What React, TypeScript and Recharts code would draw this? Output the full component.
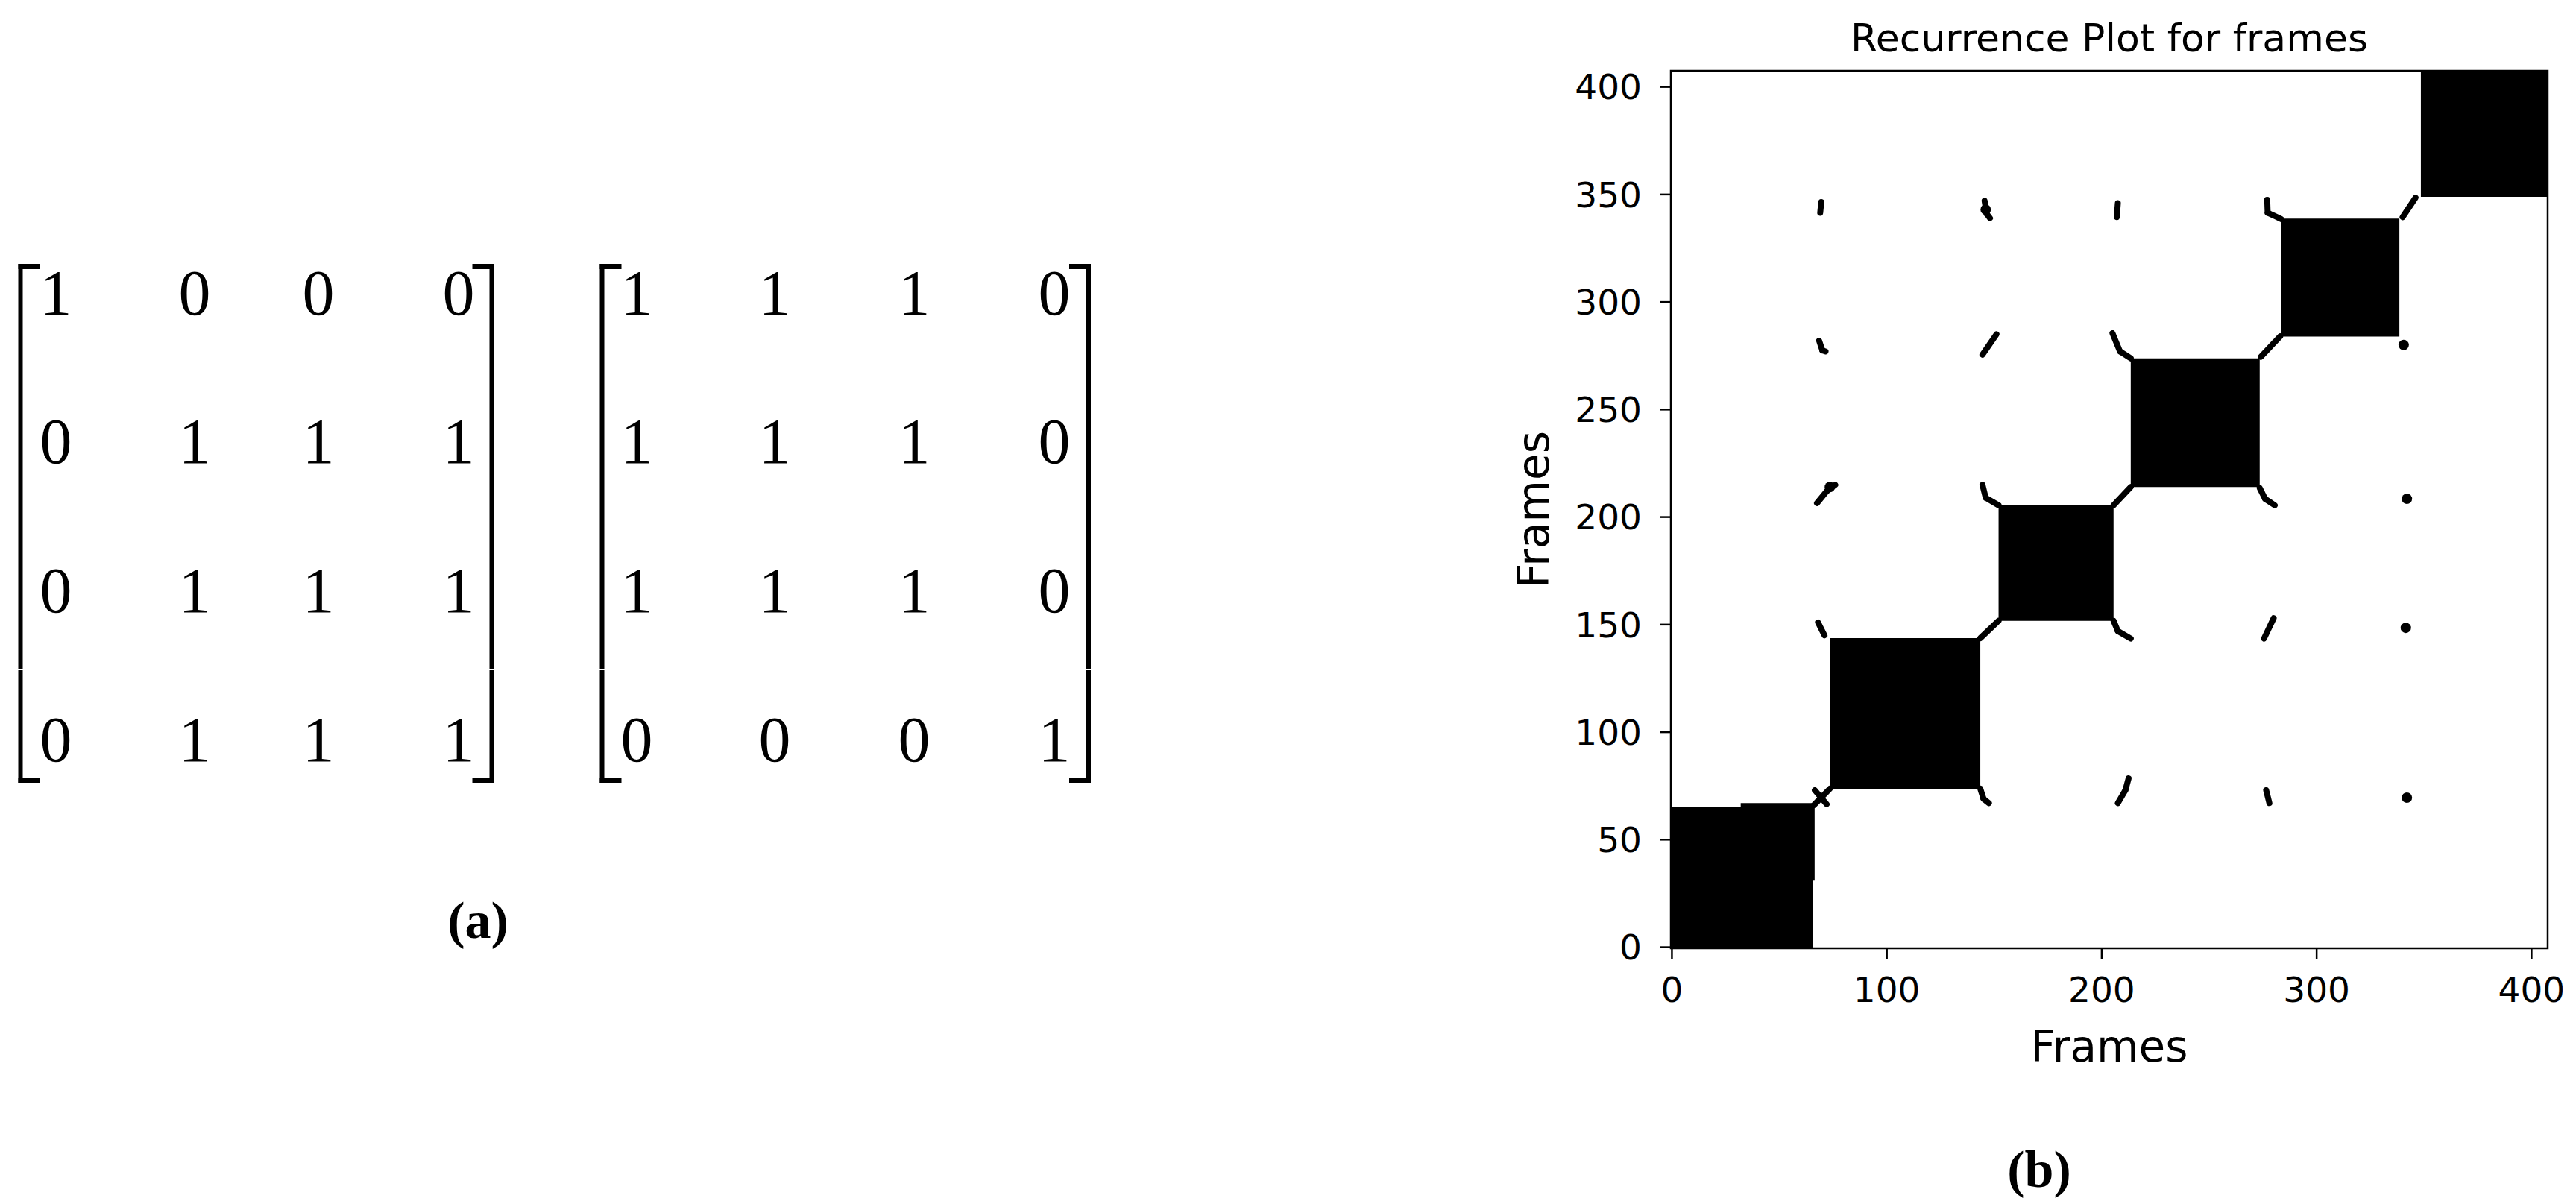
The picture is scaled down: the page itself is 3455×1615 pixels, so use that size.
import React from 'react';
import { ScatterChart, Scatter, XAxis, YAxis, ReferenceArea, ReferenceLine } from 'recharts';

// axis range of the recurrence image (imshow extent)
const frameMin = -0.5;
const frameMax = 407.5;
const xTicks = [0, 100, 200, 300, 400];
const yTicks = [0, 50, 100, 150, 200, 250, 300, 350, 400];

// black recurrence blocks along the diagonal (frame ranges)
const blockX1 = [-0.5, 32, 73.5, 152, 213.5, 283.5, 348.5];
const blockX2 = [65.6, 66.4, 143.5, 205.5, 273.5, 338.5, 407.5];
const blockY1 = [-0.5, 31, 73.7, 151.8, 214, 283.9, 348.9];
const blockY2 = [65.3, 67, 143.7, 205.5, 273.8, 338.8, 407.5];

// small off-diagonal recurrence specks, as short frame-to-frame strokes
const speckPaths: [number, number][][] = [
  [[69, 341.5], [69.5, 346.5]],
  [[145.5, 347], [146.5, 341], [148, 339]],
  [[207.5, 346], [207, 339.5]],
  [[277, 347.5], [277.2, 341.5], [283.5, 338.6]],
  [[340, 339.5], [346, 348.5]],
  [[68.5, 282], [70, 277.5], [71.5, 277]],
  [[144.5, 275.5], [151, 285]],
  [[205, 285.5], [208.5, 277], [213.5, 273.8]],
  [[274, 274.5], [283, 284]],
  [[67.5, 206.5], [72, 212], [76, 215]],
  [[144.5, 215], [146, 209], [152, 205.5]],
  [[205.5, 205.5], [213.5, 214]],
  [[273.5, 213.5], [276, 208.5], [280.5, 205.5]],
  [[68, 151], [71, 145]],
  [[143.5, 143.7], [152, 151.8]],
  [[205.5, 151.8], [207.5, 147], [213.5, 143.5]],
  [[275.5, 143.5], [280, 153]],
  [[66, 66], [73.5, 73.7]],
  [[66.5, 73], [72, 66.5]],
  [[143.5, 73.7], [145, 69], [147.5, 67]],
  [[207.5, 67], [211, 73], [212.5, 78.5]],
  [[276.5, 73], [278, 67]],
];
const speckDotsX = [342, 342, 340.5, 341.5, 146, 73.5];
const speckDotsY = [208.5, 69.5, 280, 148.5, 343, 214];

// matrices of panel (a)
const matrixA = [
  [1, 0, 0, 0],
  [0, 1, 1, 1],
  [0, 1, 1, 1],
  [0, 1, 1, 1],
];
const matrixB = [
  [1, 1, 1, 0],
  [1, 1, 1, 0],
  [1, 1, 1, 0],
  [0, 0, 0, 1],
];

const speckDots = speckDotsX.map((x, i) => ({ x, y: speckDotsY[i] }));

const rowBase = [422, 621, 821, 1021];
const colsA = [75, 261, 427, 615];
const colsB = [854, 1039, 1226, 1414];

const Bracket = ({ x, side }: { x: number; side: 'left' | 'right' }) => {
  const top = 354;
  const bottom = 1050;
  const w = 6;
  const serif = 29;
  const sx = side === 'left' ? x : x + w - serif;
  return (
    <g fill="#000">
      <rect x={x} y={top} width={w} height={bottom - top} />
      <rect x={sx} y={top} width={serif} height={7} />
      <rect x={sx} y={bottom - 7} width={serif} height={7} />
      <rect x={x - 1} y={897} width={w + 2} height={2} fill="#fff" />
    </g>
  );
};

const Matrix = ({ rows, cols }: { rows: number[][]; cols: number[] }) => (
  <g>
    {rows.map((row, r) =>
      row.map((v, c) => (
        <text
          key={`${r}-${c}`}
          x={cols[c]}
          y={rowBase[r]}
          textAnchor="middle"
          fontFamily="'Liberation Serif', serif"
          fontSize={86}
          fill="#000"
        >
          {v}
        </text>
      ))
    )}
  </g>
);

const tickStyle = { fill: '#000', fontSize: 47, fontFamily: 'DejaVu Sans' };

export default function App() {
  return (
    <div style={{ position: 'absolute', left: 0, top: 0, width: 3455, height: 1615, background: '#fff' }}>
      <div style={{ position: 'absolute', left: 1900, top: 0 }}>
        <ScatterChart width={1555} height={1615} margin={{ top: 95, right: 38, bottom: 183, left: 141 }}>
          <XAxis
            type="number"
            dataKey="x"
            domain={[frameMin, frameMax]}
            ticks={xTicks}
            interval={0}
            height={160}
            axisLine={false}
            tickLine={{ stroke: '#000', strokeWidth: 2.5 }}
            tickSize={15}
            tickMargin={24}
            tick={tickStyle}
            label={{ value: 'Frames', position: 'insideBottom', offset: 8, fill: '#000', fontSize: 58, fontFamily: 'DejaVu Sans' }}
          />
          <YAxis
            type="number"
            dataKey="y"
            domain={[frameMin, frameMax]}
            ticks={yTicks}
            interval={0}
            width={200}
            axisLine={false}
            tickLine={{ stroke: '#000', strokeWidth: 2.5 }}
            tickSize={15}
            tickMargin={24}
            tick={tickStyle}
            label={{
              value: 'Frames',
              angle: -90,
              position: 'insideLeft',
              offset: 15,
              fill: '#000',
              fontSize: 58,
              fontFamily: 'DejaVu Sans',
              style: { textAnchor: 'middle' },
            }}
          />
          {blockX1.map((x1, i) => (
            <ReferenceArea
              key={`b${i}`}
              x1={x1}
              x2={blockX2[i]}
              y1={blockY1[i]}
              y2={blockY2[i]}
              fill="#000"
              fillOpacity={1}
              stroke="none"
            />
          ))}
          {speckPaths.map((path, i) =>
            path.slice(1).map((pt, j) => (
              <ReferenceLine
                key={`s${i}-${j}`}
                segment={[
                  { x: path[j][0], y: path[j][1] },
                  { x: pt[0], y: pt[1] },
                ]}
                stroke="#000"
                strokeWidth={8}
                strokeLinecap="round"
              />
            ))
          )}
          <Scatter
            data={speckDots}
            isAnimationActive={false}
            shape={(p: any) => <circle cx={p.cx} cy={p.cy} r={7} fill="#000" />}
          />
          <ReferenceArea
            x1={frameMin}
            x2={frameMax}
            y1={frameMin}
            y2={frameMax}
            fill="none"
            stroke="#000"
            strokeWidth={2.5}
          />
        </ScatterChart>
      </div>
      <svg width={3455} height={1615} style={{ position: 'absolute', left: 0, top: 0, pointerEvents: 'none' }}>
        <Bracket x={24.5} side="left" />
        <Bracket x={656.5} side="right" />
        <Bracket x={804.5} side="left" />
        <Bracket x={1457} side="right" />
        <Matrix rows={matrixA} cols={colsA} />
        <Matrix rows={matrixB} cols={colsB} />
        <text x={641} y={1258} textAnchor="middle" fontFamily="'Liberation Serif', serif" fontWeight="bold" fontSize={70}>
          (a)
        </text>
        <text x={2735} y={1592} textAnchor="middle" fontFamily="'Liberation Serif', serif" fontWeight="bold" fontSize={70}>
          (b)
        </text>
        <text x={2829} y={69} textAnchor="middle" fontFamily="DejaVu Sans" fontSize={52} fill="#000">
          Recurrence Plot for frames
        </text>
      </svg>
    </div>
  );
}
